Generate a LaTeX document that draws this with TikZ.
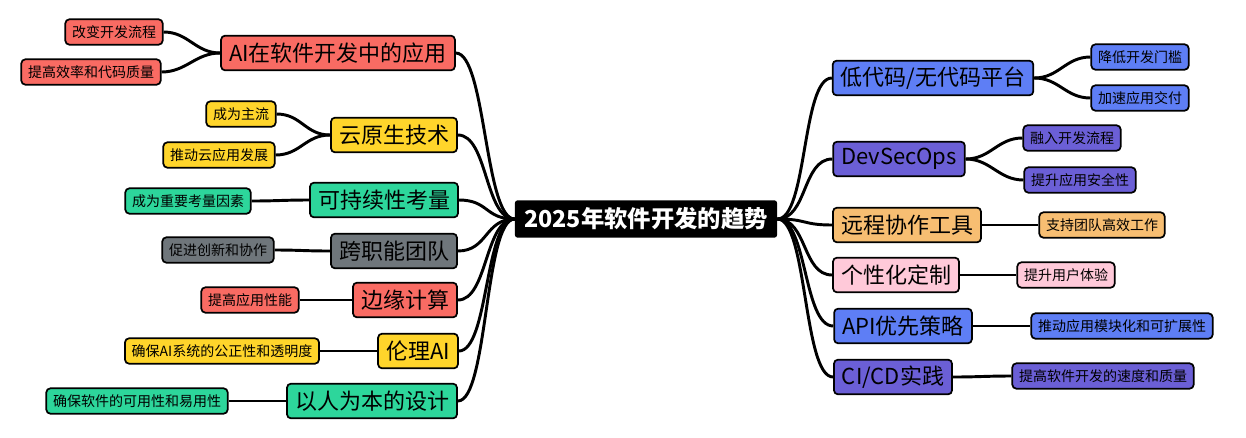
\documentclass[tikz,border=0pt]{standalone}
\usepackage{fontspec}
\setmainfont{Noto Sans CJK SC}
\begin{document}
\begin{tikzpicture}[x=0.75pt,y=-0.75pt,
  base/.style={draw=black,line width=1.3pt,rounded corners=3pt,inner sep=0pt,text=black},
  mainn/.style={base,minimum height=26pt,font=\fontsize{16.5}{18}\selectfont,inner xsep=6pt},
  leaf/.style={base,minimum height=19pt,font=\fontsize{10.5}{12}\selectfont,inner xsep=5pt},
  link/.style={line width=2.2pt,black}]
\definecolor{cr}{HTML}{F96B63}\definecolor{cy}{HTML}{FFD52B}\definecolor{cg}{HTML}{2DD69B}
\definecolor{cgr}{HTML}{6F767B}\definecolor{cb}{HTML}{5E7EF5}\definecolor{cp}{HTML}{6B5FD6}
\definecolor{co}{HTML}{F7BE72}\definecolor{cpk}{HTML}{FFC9D9}
\useasboundingbox (0,0) rectangle (1246,437);
\node[fill=black,text=white,font=\fontsize{17.5}{19}\selectfont\bfseries,minimum height=28pt,inner xsep=7pt,rounded corners=2pt] (c) at (646,219) {2025年软件开发的趋势};
% left mains
\node[mainn,fill=cr] (l1) at (338,53) {AI在软件开发中的应用};
\node[mainn,fill=cy] (l2) at (394,135) {云原生技术};
\node[mainn,fill=cg] (l3) at (384,200) {可持续性考量};
\node[mainn,fill=cgr] (l4) at (394,251) {跨职能团队};
\node[mainn,fill=cr] (l5) at (405,300) {边缘计算};
\node[mainn,fill=cy] (l6) at (418,351) {伦理AI};
\node[mainn,fill=cg] (l7) at (372,401) {以人为本的设计};
% left leaves
\node[leaf,fill=cr] (a1) at (114,32) {改变开发流程};
\node[leaf,fill=cr] (a2) at (91,72) {提高效率和代码质量};
\node[leaf,fill=cy] (b1) at (241,114) {成为主流};
\node[leaf,fill=cy] (b2) at (219,155) {推动云应用发展};
\node[leaf,fill=cg] (d1) at (188,201) {成为重要考量因素};
\node[leaf,fill=cgr] (e1) at (218,250) {促进创新和协作};
\node[leaf,fill=cr] (f1) at (250,300) {提高应用性能};
\node[leaf,fill=cy] (g1) at (222,351) {确保AI系统的公正性和透明度};
\node[leaf,fill=cg] (h1) at (137,401) {确保软件的可用性和易用性};
% right mains
\node[mainn,fill=cb] (r1) at (933,78) {低代码/无代码平台};
\node[mainn,fill=cp] (r2) at (899,159) {DevSecOps};
\node[mainn,fill=co] (r3) at (907,225) {远程协作工具};
\node[mainn,fill=cpk] (r4) at (896,275) {个性化定制};
\node[mainn,fill=cb] (r5) at (903,326) {API优先策略};
\node[mainn,fill=cp] (r6) at (893,377) {CI/CD实践};
% right leaves
\node[leaf,fill=cb] (s1) at (1140,57) {降低开发门槛};
\node[leaf,fill=cb] (s2) at (1140,98) {加速应用交付};
\node[leaf,fill=cp] (t1) at (1072,138) {融入开发流程};
\node[leaf,fill=cp] (t2) at (1080,180) {提升应用安全性};
\node[leaf,fill=co] (u1) at (1102,225) {支持团队高效工作};
\node[leaf,fill=cpk] (v1) at (1066,275) {提升用户体验};
\node[leaf,fill=cb] (w1) at (1122,326) {推动应用模块化和可扩展性};
\node[leaf,fill=cp] (x1) at (1103,376) {提高软件开发的速度和质量};
\foreach \m in {l1,l2,l3,l4,l5,l6,l7}
  \draw[link] (c.west) .. controls +(-30,0) and +(30,0) .. (\m.east);
\foreach \m/\l in {l1/a1,l1/a2,l2/b1,l2/b2,l3/d1,l4/e1,l5/f1,l6/g1,l7/h1}
  \draw[link] (\m.west) .. controls +(-25,0) and +(25,0) .. (\l.east);
\foreach \m in {r1,r2,r3,r4,r5,r6}
  \draw[link] (c.east) .. controls +(30,0) and +(-30,0) .. (\m.west);
\foreach \m/\l in {r1/s1,r1/s2,r2/t1,r2/t2,r3/u1,r4/v1,r5/w1,r6/x1}
  \draw[link] (\m.east) .. controls +(25,0) and +(-25,0) .. (\l.west);
\end{tikzpicture}
\end{document}
